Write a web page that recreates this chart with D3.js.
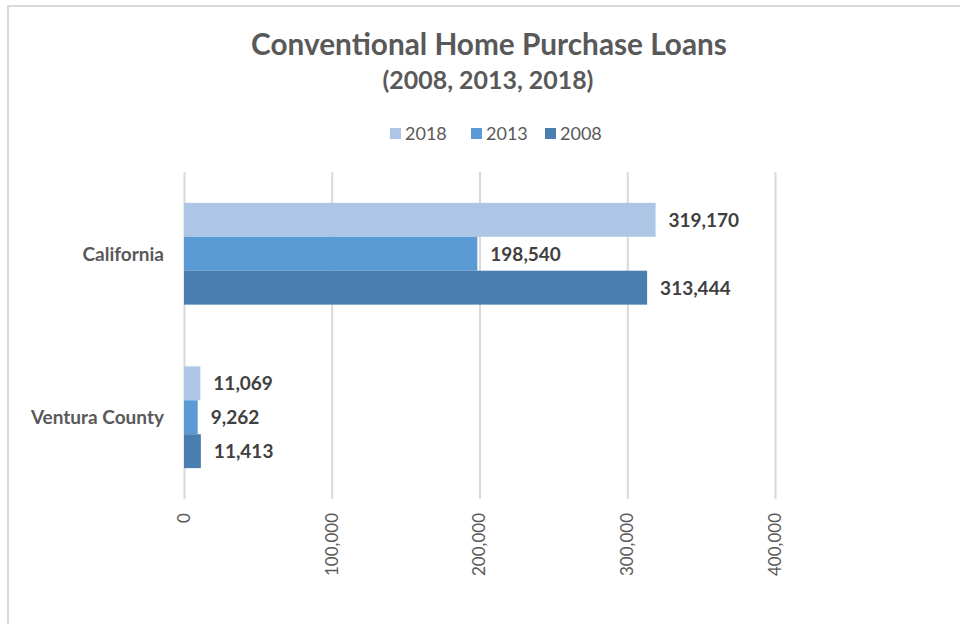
<!DOCTYPE html>
<html>
<head>
<meta charset="utf-8">
<script src="https://cdn.jsdelivr.net/npm/d3@7"></script>
<style>
  html, body { margin: 0; padding: 0; background: #fff; }
  svg { display: block; }
</style>
</head>
<body>
<svg id="chart" width="960" height="624"></svg>
<script>
// ---- data ----
const categories = ["California", "Ventura County"];
const seriesNames = ["2018", "2013", "2008"];
const values2018 = [319170, 11069];
const values2013 = [198540, 9262];
const values2008 = [313444, 11413];
const tickValues = [0, 100000, 200000, 300000, 400000];
const titleText = "Conventional Home Purchase Loans";
const subtitleText = "(2008, 2013, 2018)";

const seriesValues = { "2018": values2018, "2013": values2013, "2008": values2008 };
const colors = { "2018": "#aec6e6", "2013": "#5b9bd5", "2008": "#4a7eb0" };

const svg = d3.select("#chart");
const FONT = "Lato, 'Open Sans', sans-serif";

// frame
svg.append("rect").attr("x", 8).attr("y", 6).attr("width", 1000).attr("height", 700)
  .attr("fill", "#fff").attr("stroke", "#d9d9d9").attr("stroke-width", 2);

function fitText(sel, target) {
  const w = sel.node().getComputedTextLength();
  const fs = parseFloat(sel.attr("font-size"));
  sel.attr("font-size", fs * target / w);
}

// title
const t1 = svg.append("text").attr("x", 489).attr("y", 55).attr("text-anchor", "middle")
  .attr("font-family", FONT).attr("font-weight", "bold").attr("font-size", 25)
  .attr("fill", "#595959").text(titleText);
fitText(t1, 476);
const t2 = svg.append("text").attr("x", 488).attr("y", 89).attr("text-anchor", "middle")
  .attr("font-family", FONT).attr("font-weight", "bold").attr("font-size", 21)
  .attr("fill", "#595959").text(subtitleText);
fitText(t2, 211);

// scales
const x = d3.scaleLinear().domain([0, 400000]).range([184, 775]);
const y = d3.scaleBand().domain(categories).range([172, 499]).padding(0);
const slot = y.bandwidth();
const gapFrac = 1.82 / (3 + 1.82);
const yInner = d3.scaleBand().domain(seriesNames)
  .range([slot * gapFrac / 2, slot - slot * gapFrac / 2]).padding(0);

// gridlines via axis
const gridAxis = d3.axisBottom(x).tickValues(tickValues).tickSize(-(499 - 172)).tickFormat("");
const g = svg.append("g").attr("transform", "translate(0,499)").call(gridAxis);
g.select(".domain").remove();
g.selectAll(".tick line").attr("stroke", "#d9d9d9").attr("stroke-width", 2);

// tick labels (rotated)
const fmt = d3.format(",");
svg.append("g").selectAll("text").data(tickValues).join("text")
  .attr("transform", d => `translate(${x(d)},513) rotate(-90)`)
  .attr("text-anchor", "end").attr("dy", "0.35em")
  .attr("font-family", FONT).attr("font-size", 17).attr("fill", "#595959")
  .text(d => fmt(d));

// bars
const rows = [];
categories.forEach((c, i) => seriesNames.forEach(s => rows.push({ cat: c, s, v: seriesValues[s][i] })));

svg.append("g").selectAll("rect").data(rows).join("rect")
  .attr("x", x(0))
  .attr("y", d => y(d.cat) + yInner(d.s))
  .attr("width", d => x(d.v) - x(0))
  .attr("height", yInner.bandwidth())
  .attr("fill", d => colors[d.s]);

// data labels
svg.append("g").selectAll("text").data(rows).join("text")
  .attr("x", d => x(d.v) + 13)
  .attr("y", d => y(d.cat) + yInner(d.s) + yInner.bandwidth() / 2)
  .attr("dy", "0.36em")
  .attr("font-family", FONT).attr("font-weight", "bold").attr("font-size", 19)
  .attr("fill", "#404040")
  .text(d => fmt(d.v));

// category labels
svg.append("g").selectAll("text").data(categories).join("text")
  .attr("x", 164).attr("y", d => y(d) + slot / 2).attr("dy", "0.36em")
  .attr("text-anchor", "end")
  .attr("font-family", FONT).attr("font-weight", "bold").attr("font-size", 19)
  .attr("fill", "#595959").text(d => d);

// legend
const legendX = [390, 471, 545];
const lg = svg.append("g").selectAll("g").data(seriesNames).join("g")
  .attr("transform", (d, i) => `translate(${legendX[i]},128)`);
lg.append("rect").attr("width", 11).attr("height", 11).attr("fill", d => colors[d]);
lg.append("text").attr("x", 15).attr("y", 12)
  .attr("font-family", FONT).attr("font-size", 18).attr("fill", "#595959").text(d => d);
</script>
</body>
</html>
